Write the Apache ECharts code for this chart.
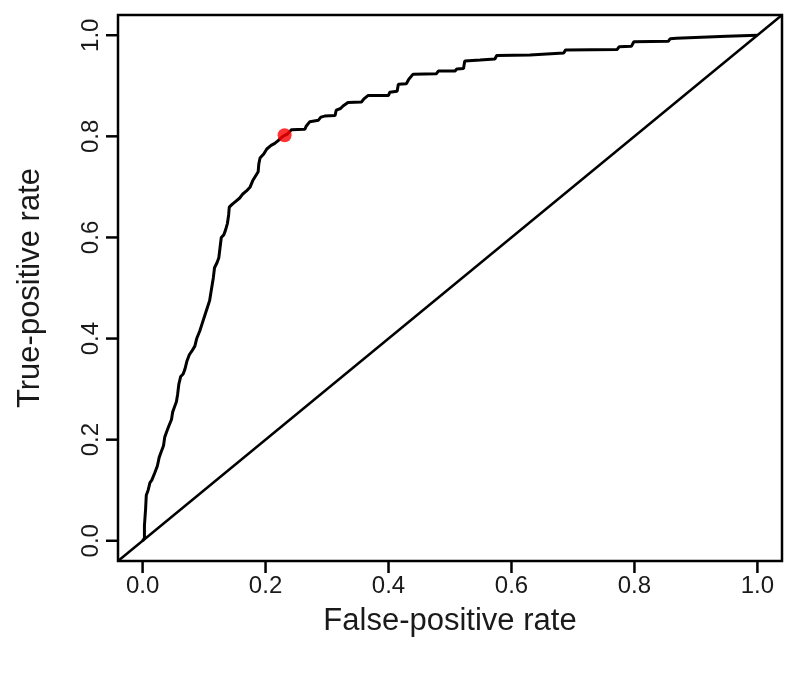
<!DOCTYPE html>
<html>
<head>
<meta charset="utf-8">
<script src="https://cdn.jsdelivr.net/npm/echarts@6/dist/echarts.min.js"></script>
<style>
html,body{margin:0;padding:0;background:#fff;}
#chart{width:800px;height:674px;}
</style>
</head>
<body>
<div id="chart"></div>
<script>
// Tick labels
var tickValues = [0, 0.2, 0.4, 0.6, 0.8, 1.0];
// ROC curve (false-positive rate, true-positive rate)
var fpr = [0, 0.003, 0.003, 0.005, 0.006, 0.009, 0.012, 0.015, 0.020, 0.024, 0.027, 0.030, 0.034, 0.036, 0.039, 0.043, 0.047, 0.049, 0.052, 0.055, 0.057, 0.059, 0.062, 0.066, 0.069, 0.072, 0.076, 0.080, 0.085, 0.088, 0.093, 0.097, 0.101, 0.105, 0.109, 0.111, 0.113, 0.115, 0.117, 0.121, 0.124, 0.126, 0.128, 0.132, 0.135, 0.138, 0.140, 0.141, 0.146, 0.152, 0.158, 0.163, 0.169, 0.175, 0.179, 0.183, 0.188, 0.189, 0.191, 0.197, 0.202, 0.209, 0.215, 0.221, 0.228, 0.236, 0.242, 0.264, 0.266, 0.272, 0.286, 0.290, 0.296, 0.313, 0.315, 0.322, 0.326, 0.334, 0.356, 0.360, 0.367, 0.400, 0.402, 0.414, 0.416, 0.429, 0.433, 0.440, 0.478, 0.481, 0.508, 0.511, 0.522, 0.524, 0.549, 0.552, 0.573, 0.576, 0.630, 0.633, 0.685, 0.688, 0.772, 0.775, 0.795, 0.799, 0.855, 0.858, 0.868, 0.870, 0.950, 0.953, 1.0];
var tpr = [0, 0.005, 0.030, 0.065, 0.090, 0.100, 0.115, 0.120, 0.135, 0.148, 0.165, 0.175, 0.188, 0.205, 0.215, 0.228, 0.240, 0.255, 0.265, 0.275, 0.290, 0.310, 0.325, 0.330, 0.340, 0.355, 0.368, 0.375, 0.385, 0.400, 0.415, 0.430, 0.445, 0.460, 0.475, 0.490, 0.505, 0.520, 0.540, 0.550, 0.560, 0.580, 0.600, 0.605, 0.615, 0.628, 0.645, 0.660, 0.666, 0.672, 0.678, 0.686, 0.692, 0.700, 0.712, 0.720, 0.730, 0.745, 0.757, 0.765, 0.775, 0.782, 0.786, 0.792, 0.800, 0.805, 0.813, 0.814, 0.820, 0.829, 0.832, 0.838, 0.840, 0.841, 0.852, 0.855, 0.860, 0.867, 0.868, 0.874, 0.881, 0.881, 0.887, 0.889, 0.903, 0.904, 0.913, 0.923, 0.924, 0.929, 0.929, 0.933, 0.934, 0.949, 0.951, 0.953, 0.953, 0.960, 0.961, 0.964, 0.965, 0.971, 0.972, 0.977, 0.978, 0.987, 0.988, 0.993, 0.994, 0.997, 0.998, 1.0, 1.0];
// Reference diagonal and highlighted cut-off point
var diagX = [-0.04, 1.04];
var diagY = [-0.04, 1.04];
var cutoffPoint = [0.231, 0.802];

var AXIS_MIN = -0.04, AXIS_MAX = 1.04, TICK_LEN = 12;
var rocData = fpr.map(function (x, i) { return [x, tpr[i]]; });
var diagData = diagX.map(function (x, i) { return [x, diagY[i]]; });

var font = 'Liberation Sans, Arial, sans-serif';
var chart = echarts.init(document.getElementById('chart'), null, {renderer: 'canvas'});
chart.setOption({
  animation: false,
  backgroundColor: '#fff',
  grid: {left: 118, right: 18, top: 15, bottom: 113, show: true, borderColor: '#000', borderWidth: 2.5, backgroundColor: 'transparent'},
  xAxis: {
    type: 'value', min: AXIS_MIN, max: AXIS_MAX,
    name: 'False-positive rate', nameLocation: 'middle', nameGap: 45,
    nameTextStyle: {fontFamily: font, fontSize: 31, color: '#1a1a1a'},
    axisLine: {show: false, onZero: false},
    splitLine: {show: false},
    axisTick: {show: false},
    axisLabel: {show: true, margin: 13, fontFamily: font, fontSize: 24, color: '#1a1a1a', customValues: tickValues,
      formatter: function (v) { return v.toFixed(1); }}
  },
  yAxis: {
    type: 'value', min: AXIS_MIN, max: AXIS_MAX,
    name: 'True-positive rate', nameLocation: 'middle', nameGap: 72, nameRotate: 90,
    nameTextStyle: {fontFamily: font, fontSize: 31, color: '#1a1a1a'},
    axisLine: {show: false, onZero: false},
    splitLine: {show: false},
    axisTick: {show: false},
    axisLabel: {show: true, rotate: 90, margin: 15, fontFamily: font, fontSize: 24, color: '#1a1a1a', customValues: tickValues,
      formatter: function (v) { return v.toFixed(1); }}
  },
  series: [
    {type: 'line', data: diagData, symbol: 'none', lineStyle: {color: '#000', width: 2.5}, silent: true},
    {type: 'line', data: rocData, symbol: 'none', lineStyle: {color: '#000', width: 3}, silent: true},
    {type: 'scatter', data: [cutoffPoint], symbol: 'circle', symbolSize: 14, itemStyle: {color: '#ff0000'}, silent: true, z: 5},
    {
      type: 'custom', clip: false, silent: true,
      data: tickValues.map(function (v) { return [v, AXIS_MIN]; }),
      renderItem: function (params, api) {
        var p = api.coord([api.value(0), AXIS_MIN]);
        return {type: 'line', shape: {x1: p[0], y1: p[1], x2: p[0], y2: p[1] + TICK_LEN}, style: {stroke: '#000', lineWidth: 2.5}};
      }
    },
    {
      type: 'custom', clip: false, silent: true,
      data: tickValues.map(function (v) { return [AXIS_MIN, v]; }),
      renderItem: function (params, api) {
        var p = api.coord([AXIS_MIN, api.value(1)]);
        return {type: 'line', shape: {x1: p[0], y1: p[1], x2: p[0] - TICK_LEN, y2: p[1]}, style: {stroke: '#000', lineWidth: 2.5}};
      }
    }
  ]
});
</script>
</body>
</html>
